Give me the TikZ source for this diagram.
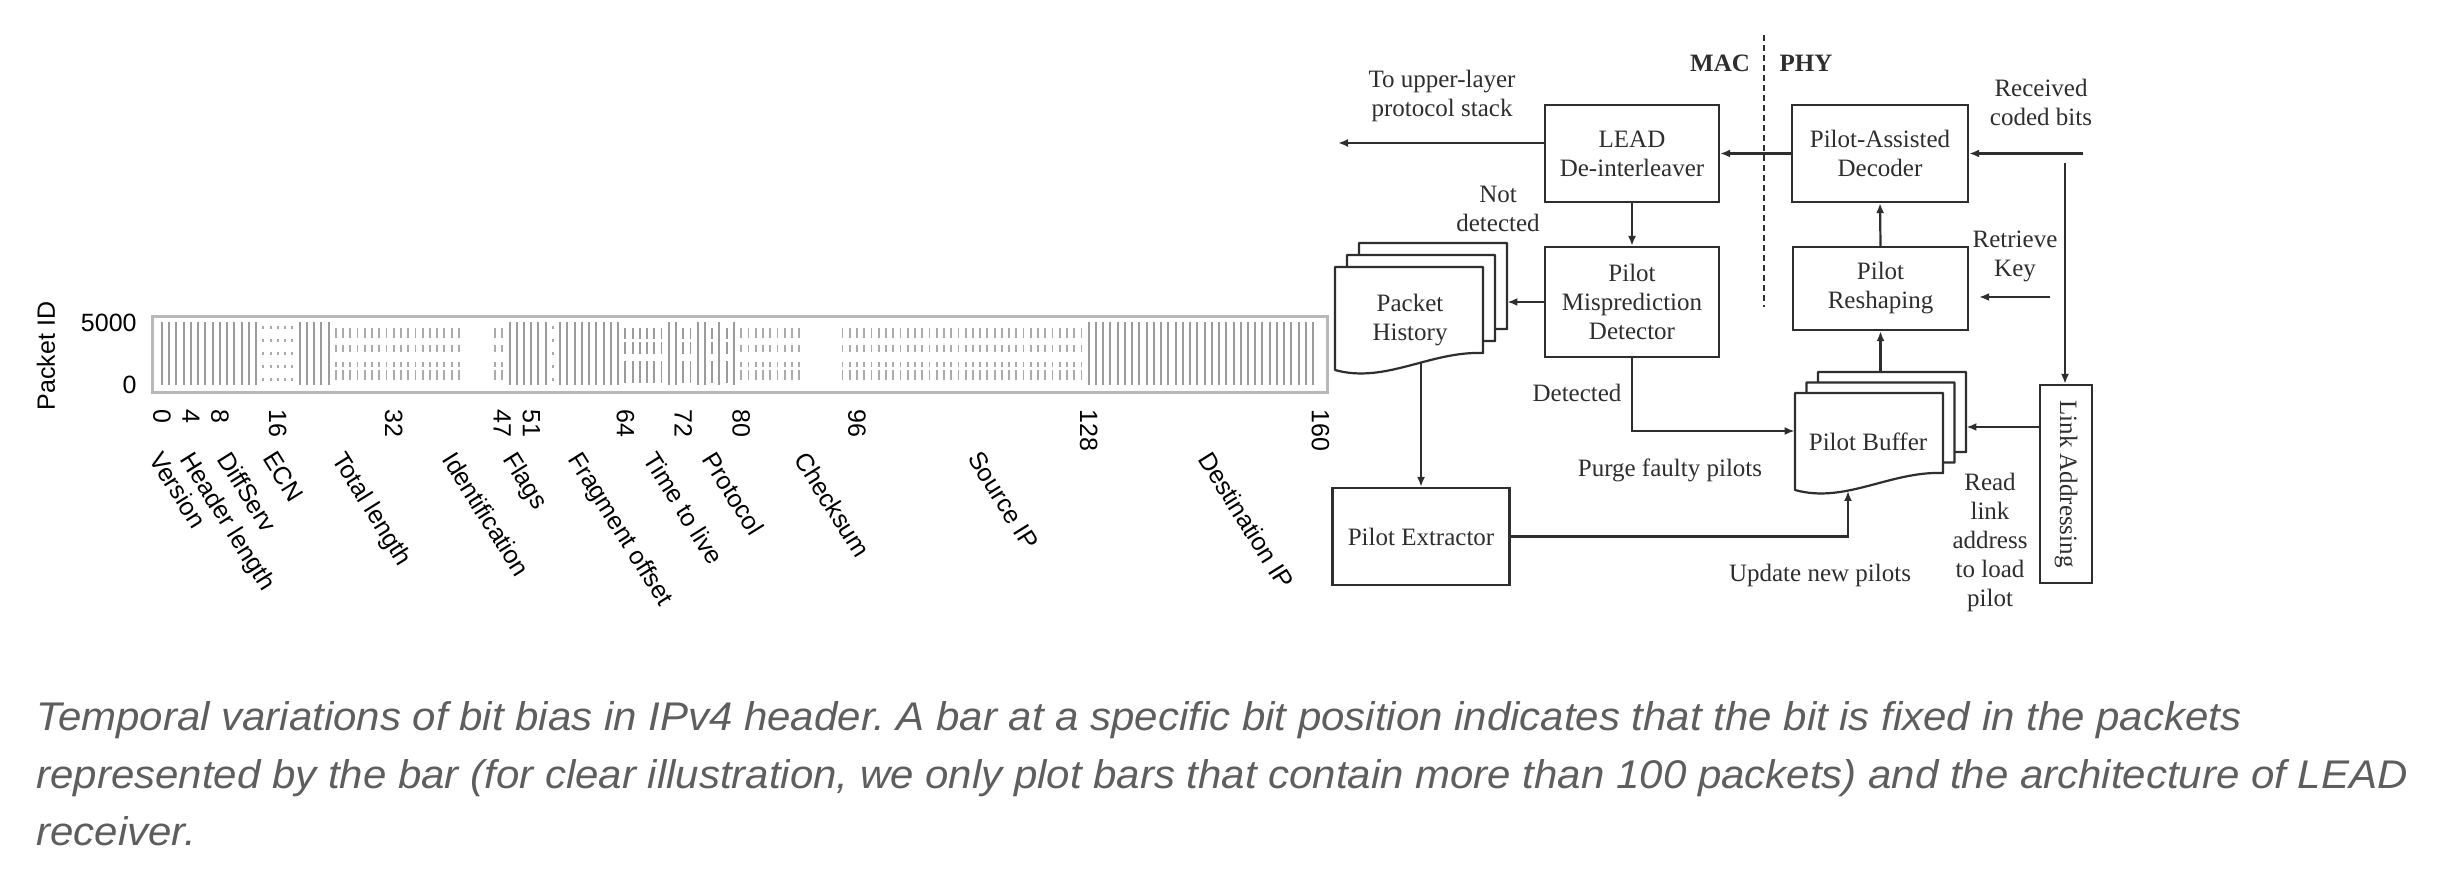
\documentclass[tikz,border=0pt]{standalone}
\usepackage{fontspec}
\setmainfont{Liberation Serif}
\setsansfont{Liberation Sans}
\usetikzlibrary{arrows.meta,calc}
\definecolor{ink}{HTML}{2E2E2E}
\definecolor{capgray}{HTML}{5E5E5E}
\definecolor{barcol}{HTML}{9C9C9C}
\definecolor{dashcol}{HTML}{ABABAB}
\definecolor{framecol}{HTML}{B8B8B8}
\newcommand\dfont{\fontsize{12.5}{14.5}\selectfont}
\newcommand\cfont{\sffamily\fontsize{12.5}{14}\selectfont}
\newcommand\capfont{\sffamily\itshape\fontsize{20}{28}\selectfont}
\newlength\capwd
\frenchspacing
\begin{document}
\settowidth\capwd{\capfont Temporal variations of bit bias in IPv4 header. A bar at a specific bit position indicates that the bit is fixed in the packets}%
\pgfmathsetmacro\capfac{1102.5pt/\capwd}%
\begin{tikzpicture}[x=0.5pt,y=-0.5pt,
  box/.style={draw=ink,line width=1.1pt,fill=white,inner sep=0pt,align=center,font=\dfont,text=ink},
  lbl/.style={align=center,font=\dfont,text=ink,inner sep=0pt},
  conn/.style={draw=ink,line width=1.1pt,-{Latex[length=5pt,width=4pt]}},
  docst/.style={draw=ink,line width=1.1pt,fill=white,line join=round},
  fullbar/.style={draw=barcol,line width=1pt},
  dashbar/.style={draw=dashcol,line width=0.9pt,dash pattern=on 5pt off 3.5pt on 3.5pt off 5pt on 2.5pt off 1.5pt on 5pt off 20pt},
  heavydash/.style={draw=barcol,line width=0.9pt,dash pattern=on 5.5pt off 1.5pt on 6pt off 3.5pt on 11pt off 20pt},
  dotbar/.style={draw=dashcol,line width=0.9pt,dash pattern=on 1.5pt off 5pt},
  ticklbl/.style={font=\cfont,rotate=-90,anchor=west,inner sep=0pt},
  fieldlbl/.style={font=\cfont,rotate=-58,anchor=north west,inner sep=0pt},
  histdoc/.pic={\path[docst] (0,0) -- (148,0) -- (148,86) .. controls (95,84) and (50,117) .. (0,103) -- cycle;},
  bufdoc/.pic={\path[docst] (0,0) -- (148,0) -- (148,80) .. controls (95,78) and (50,111) .. (0,97) -- cycle;}
]
\fill[white] (0,0) rectangle (2446,876);
\useasboundingbox (0,0) rectangle (2446,876);

% ---------------- chart ----------------
\draw[framecol,line width=1.5pt] (152,317) rectangle (1327,393);
\foreach \a/\c in {0/13,19/23,48/53,55/63,128/159,70/71,74/75,77/77,79/79}
  \foreach \b in {\a,...,\c}
    \draw[fullbar] ({162+\b*7.24},322) -- ({162+\b*7.24},385);
\foreach \a/\c in {24/41,46/47,80/88,94/127}
  \foreach \b in {\a,...,\c}
    \draw[dashbar] ({162+\b*7.24},328) -- ({162+\b*7.24},380);
\foreach \a/\c in {64/69,72/73,76/76,78/78}
  \foreach \b in {\a,...,\c}
    \draw[heavydash] ({162+\b*7.24},328) -- ({162+\b*7.24},384);
\foreach \a/\c in {14/18,54/54}
  \foreach \b in {\a,...,\c}
    \draw[dotbar] ({162+\b*7.24},326) -- ({162+\b*7.24},384);

\node[font=\cfont,rotate=90,inner sep=0pt] (pid) at (46,356) {Packet ID};
\node[font=\cfont,anchor=east,inner sep=0pt] (y5000) at (137,323) {5000};
\node[font=\cfont,anchor=east,inner sep=0pt] (y0) at (137,385) {0};
\foreach \t in {0,4,8,16,32,47,51,64,72,80,96,128,160}
  \node[ticklbl] (tick\t) at ({162+\t*7.24},409) {\t};

\node[fieldlbl] (fver) at (164,449) {Version};
\node[fieldlbl] (fhl) at (195,449) {Header length};
\node[fieldlbl] (fds) at (232,449) {DiffServ};
\node[fieldlbl] (fecn) at (277,449) {ECN};
\node[fieldlbl] (ftl) at (347,449) {Total length};
\node[fieldlbl] (fid) at (457,449) {Identification};
\node[fieldlbl] (ffl) at (518,449) {Flags};
\node[fieldlbl] (ffo) at (583,449) {Fragment offset};
\node[fieldlbl] (fttl) at (658,449) {Time to live};
\node[fieldlbl] (fpr) at (717,449) {Protocol};
\node[fieldlbl] (fck) at (809,449) {Checksum};
\node[fieldlbl] (fsip) at (982,449) {Source IP};
\node[fieldlbl] (fdip) at (1213,449) {Destination IP};

% ---------------- architecture ----------------
\coordinate (dTop) at (1764,35);
\coordinate (dBot) at (1764,307);
\draw[ink,line width=1.1pt,dash pattern=on 3pt off 2pt] (dTop) -- (dBot);
\node[lbl,font=\dfont\bfseries] (mac) at (1720,63) {MAC};
\node[lbl,font=\dfont\bfseries] (phy) at (1806,63) {PHY};

\node[box,minimum width=87pt,minimum height=48.5pt] (LEAD) at (1632,153.5) {LEAD\\De-interleaver};
\node[box,minimum width=88pt,minimum height=48.5pt] (PAD) at (1880,153.5) {Pilot-Assisted\\Decoder};
\node[box,minimum width=87pt,minimum height=55pt] (Mis) at (1632,302) {Pilot\\Misprediction\\Detector};
\node[box,minimum width=87.5pt,minimum height=41.5pt] (Resh) at (1880.5,288.5) {Pilot\\Reshaping};
\node[box,minimum width=88.5pt,minimum height=48.5pt] (Ext) at (1421,536.5) {Pilot Extractor};
\node[box,minimum width=26pt,minimum height=99pt] (LA) at (2066,484) {\rotatebox{-90}{Link Addressing}};

% document stacks
\pic at (1359,243) {histdoc};
\pic at (1347,255) {histdoc};
\pic at (1335,267) {histdoc};
\node[lbl] (phtext) at (1410,320) {Packet\\History};
\node[inner sep=0pt,minimum width=86pt,minimum height=63.5pt] (ph) at (1421,306.5) {};
\pic at (1818,372) {bufdoc};
\pic at (1806.5,382.5) {bufdoc};
\pic at (1795,393) {bufdoc};
\node[lbl] (pbtext) at (1868,442) {Pilot Buffer};
\node[inner sep=0pt,minimum width=85.5pt,minimum height=59pt] (pb) at (1880.5,431) {};

% labels
\node[lbl] (upper) at (1442,96) {To upper-layer\\protocol stack};
\node[lbl] (rcvtxt) at (2041,102) {Received\\coded bits};
\node[lbl] (notdet) at (1498,209) {Not\\detected};
\node[lbl] (retrtxt) at (2015,256) {Retrieve\\Key};
\node[lbl] (dettxt) at (1577,393) {Detected};
\node[lbl] (purge) at (1670,470) {Purge faulty pilots};
\node[lbl] (update) at (1820,575) {Update new pilots};
\node[lbl] (readtxt) at (1990,542) {Read\\link\\address\\to load\\pilot};

% connectors
\coordinate (upEnd) at (1338,143);
\draw[conn] (LEAD.west |- upEnd) -- (upEnd);
\draw[conn] (PAD.west) -- (LEAD.east);
\coordinate (rcv) at (2083,153.5);
\draw[conn] (rcv) -- (PAD.east);
\draw[conn] (LEAD.south) -- (Mis.north);
\draw[conn] (Mis.west) -- (Mis.west -| ph.east);
\coordinate (phb) at (1421,362);
\draw[conn] (phb) -- (Ext.north);
\draw[conn] (Mis.south) |- (pb.west);
\coordinate (pbb) at (1848,491);
\draw[conn] (Ext.east) -| (pbb);
\draw[conn] (pb.north) -- (Resh.south);
\draw[conn] (Resh.north) -- (PAD.south);
\coordinate (keyTop) at (2065,163);
\draw[conn] (keyTop) -- (keyTop |- LA.north);
\coordinate (y427) at (0,427);
\draw[conn] (LA.west |- y427) -- (pb.east |- y427);
\coordinate (retr) at (2050,297);
\draw[conn,shorten >=5pt] (retr) -- (retr -| Resh.east);

% ---------------- caption ----------------
\node[anchor=base west,inner sep=0pt,text=capgray] (cap1) at (36,730) {\scalebox{\capfac}[1]{\capfont Temporal variations of bit bias in IPv4 header. A bar at a specific bit position indicates that the bit is fixed in the packets}};
\node[anchor=base west,inner sep=0pt,text=capgray] (cap2) at (36,788) {\scalebox{\capfac}[1]{\capfont represented by the bar (for clear illustration, we only plot bars that contain more than 100 packets) and the architecture of LEAD}};
\node[anchor=base west,inner sep=0pt,text=capgray] (cap3) at (36,845) {\scalebox{\capfac}[1]{\capfont receiver.}};
\end{tikzpicture}
\end{document}
